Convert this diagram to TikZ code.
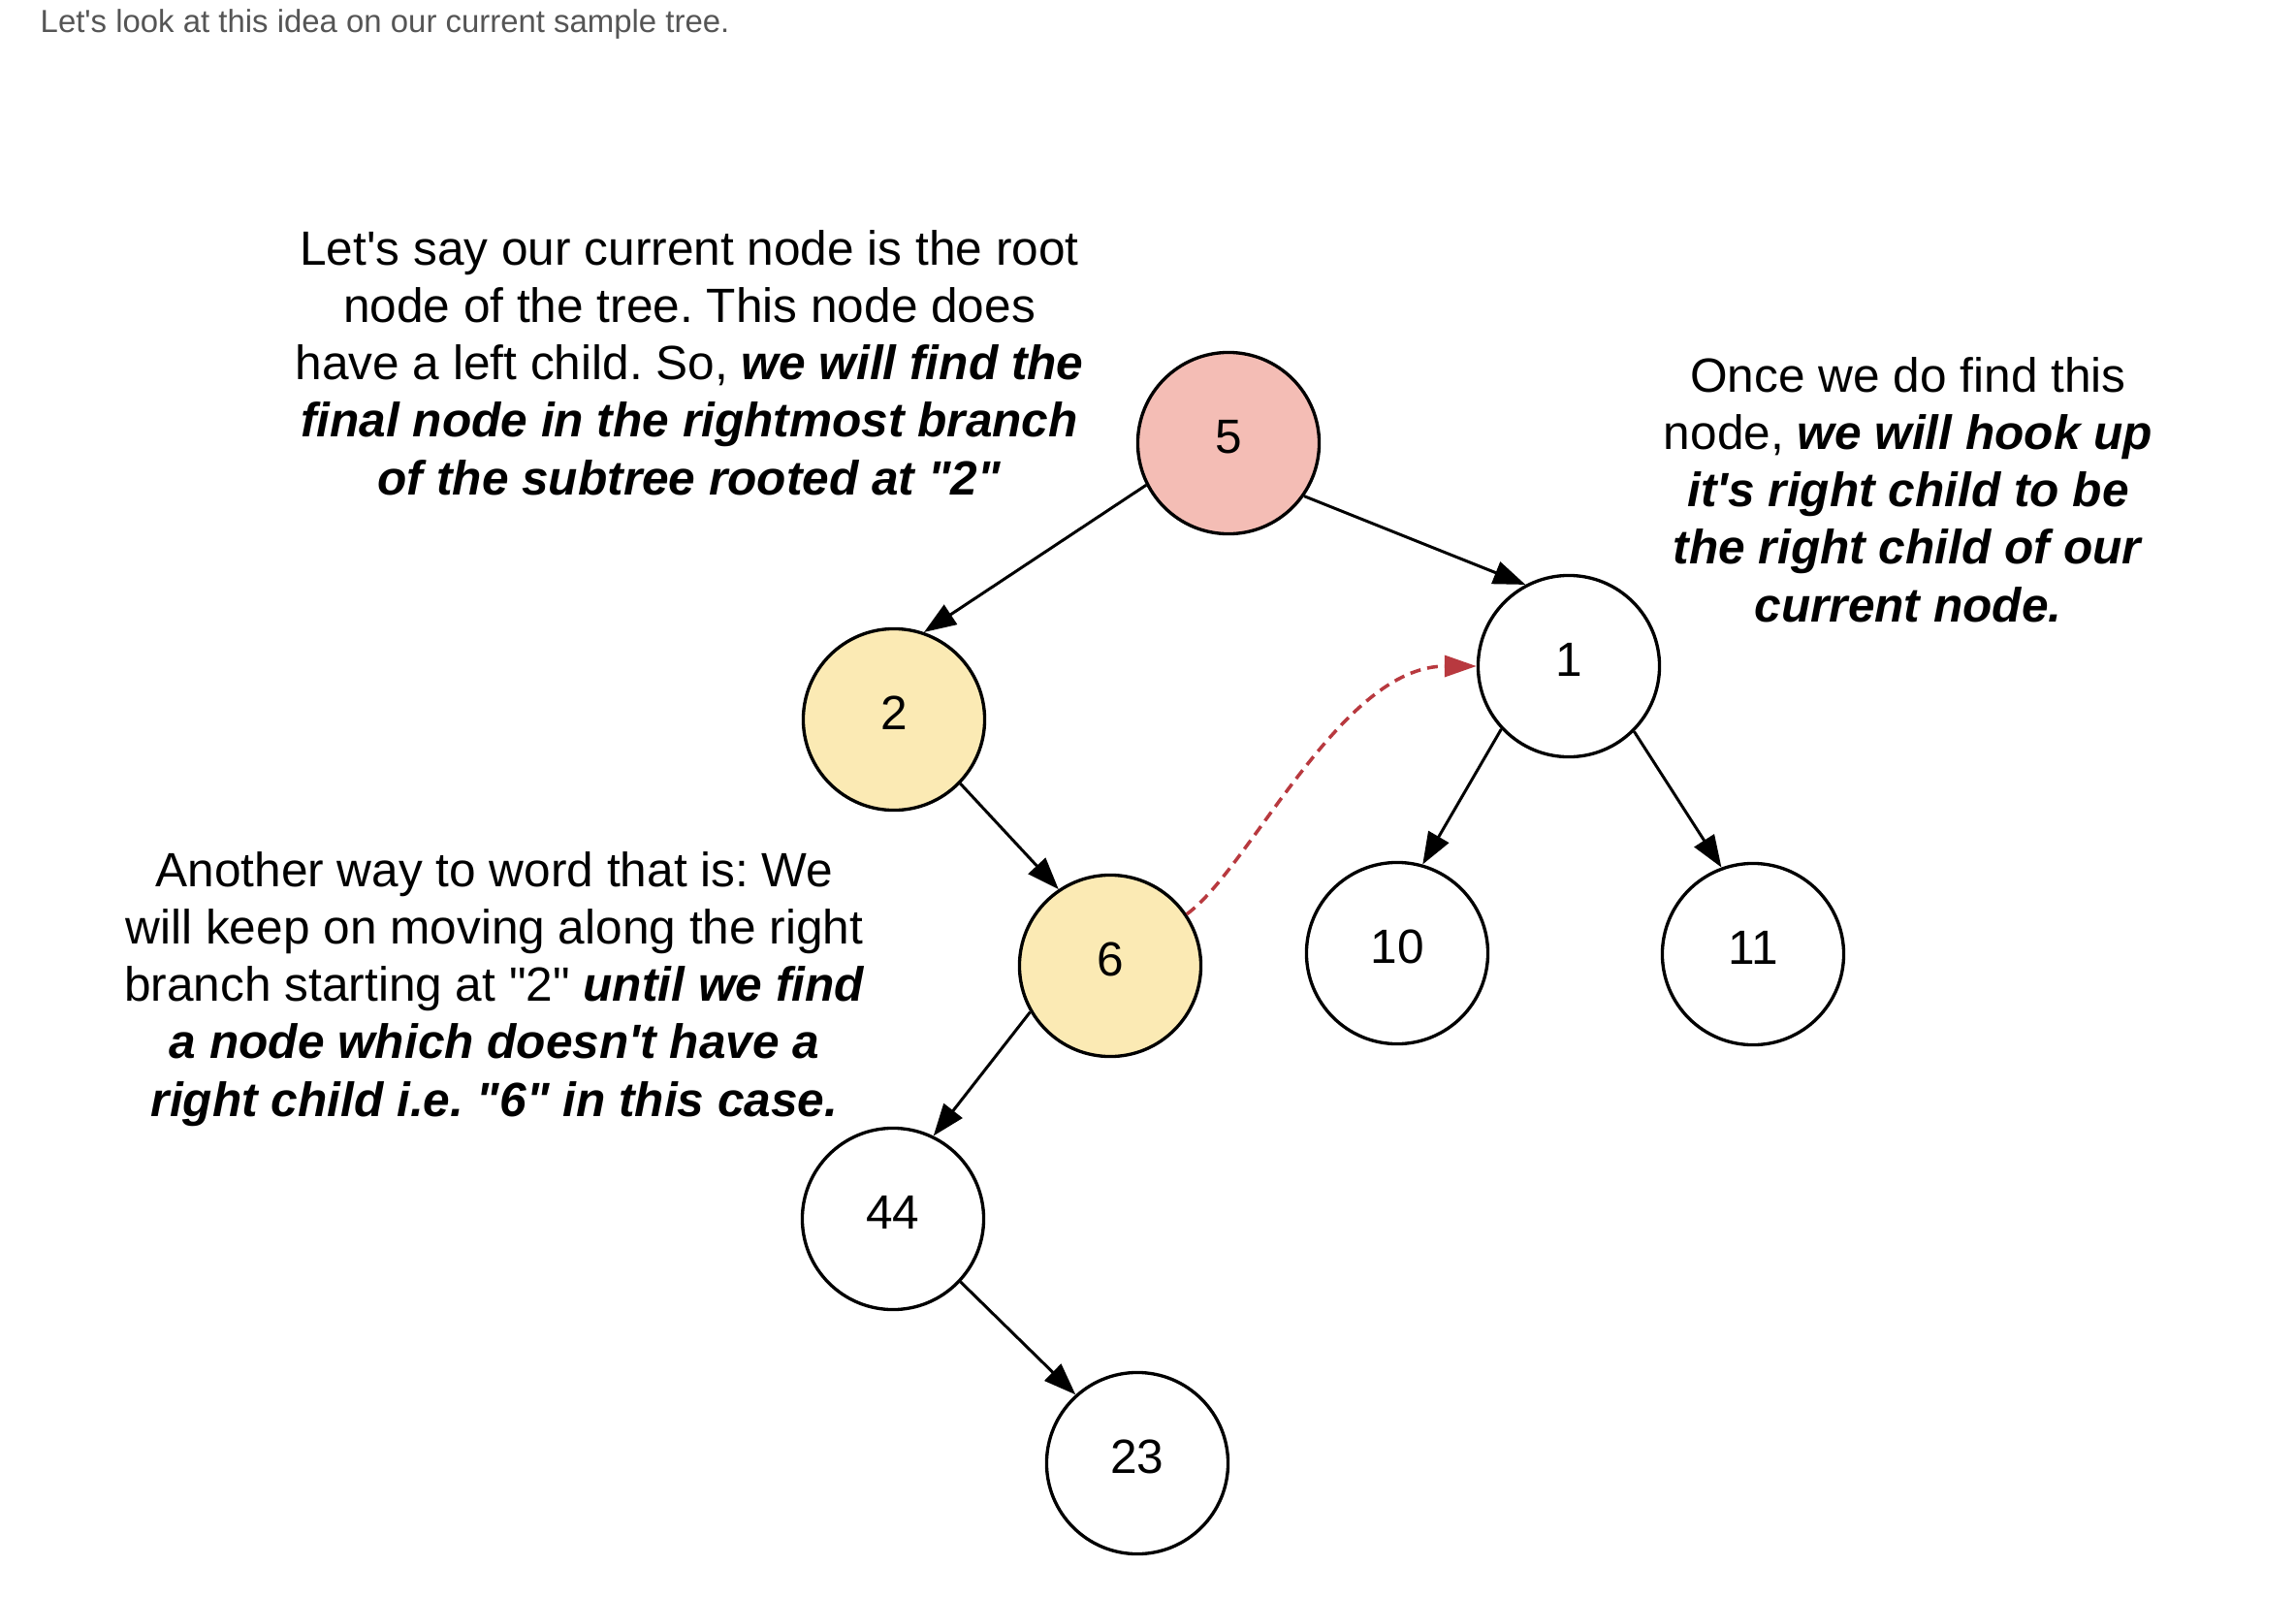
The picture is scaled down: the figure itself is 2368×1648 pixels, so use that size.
\documentclass[tikz,border=0pt]{standalone}
\usepackage{fontspec}
\setmainfont{Liberation Sans}
\usetikzlibrary{arrows.meta}
\definecolor{rootfill}{HTML}{F4BDB5}
\definecolor{pathfill}{HTML}{FBEAB4}
\definecolor{hookred}{HTML}{B8393F}
\definecolor{notegray}{HTML}{555555}
\newcommand{\ap}{\textquotesingle}
\newcommand{\qd}{\textquotedbl}
\frenchspacing
\begin{document}
\begin{tikzpicture}[x=0.01cm,y=-0.01cm,
  treenode/.style={circle,draw=black,line width=0.95pt,minimum size=1.87cm,
    inner sep=0pt,text depth=0.14cm,font=\fontsize{14.1pt}{17pt}\selectfont},
  edge/.style={line width=0.85pt,-{Triangle[length=0.33cm,width=0.24cm]}},
  hook/.style={draw=hookred,line width=1pt,dash pattern=on 0.11cm off 0.07cm,
    -{Triangle[length=0.33cm,width=0.22cm]}},
  note/.style={align=center,inner sep=0pt,anchor=base,
    font=\fontsize{14.1pt}{16.79pt}\selectfont}]
\useasboundingbox (0,0) rectangle (2368,1648);

% heading line
\node[anchor=base west,inner sep=0pt,text=notegray,
  font=\fontsize{9.36pt}{11pt}\selectfont] (intro) at (41,33)
  {Let\ap s look at this idea on our current sample tree.};

% tree
\node[treenode,fill=rootfill] (n5) at (1267,457) {5};
\node[treenode,fill=pathfill] (n2) at (922,742) {2};
\node[treenode] (n1) at (1618,687) {1};
\node[treenode,fill=pathfill] (n6) at (1145,996) {6};
\node[treenode] (n10) at (1441,983) {10};
\node[treenode] (n11) at (1808,984) {11};
\node[treenode] (n44) at (921,1257) {44};
\node[treenode] (n23) at (1173,1509) {23};

\draw[edge] (n5.207) -- (n2.71);
\draw[edge] (n5.325) -- (n1.118);
\draw[edge] (n2.316) -- (n6.124);
\draw[edge] (n6.210) -- (n44.64);
\draw[edge] (n44.317) -- (n23.132);
\draw[edge] (n1.223) -- (n10.74);
\draw[edge] (n1.315) -- (n11.110);
\draw[hook] (n6.34) .. controls +(65,-47) and +(-140,0) .. (n1.180);

% explanations (anchored at the baseline of the last line)
\node[note] (noteA) at (711,510) {Let\ap s say our current node is the root\\
  node of the tree. This node does\\
  have a left child. So, \textbf{\textit{we will find the}}\\
  \textbf{\textit{final node in the rightmost branch}}\\
  \textbf{\textit{of the subtree rooted at \qd 2\qd}}};
\node[note] (noteB) at (1968,641) {Once we do find this\\
  node, \textbf{\textit{we will hook up}}\\
  \textbf{\textit{it\ap s right child to be}}\\
  \textbf{\textit{the right child of our}}\\
  \textbf{\textit{current node.}}};
\node[note] (noteC) at (510,1151) {Another way to word that is: We\\
  will keep on moving along the right\\
  branch starting at \qd 2\qd{} \textbf{\textit{until we find}}\\
  \textbf{\textit{a node which doesn\ap t have a}}\\
  \textbf{\textit{right child i.e. \qd 6\qd{} in this case.}}};
\end{tikzpicture}
\end{document}
